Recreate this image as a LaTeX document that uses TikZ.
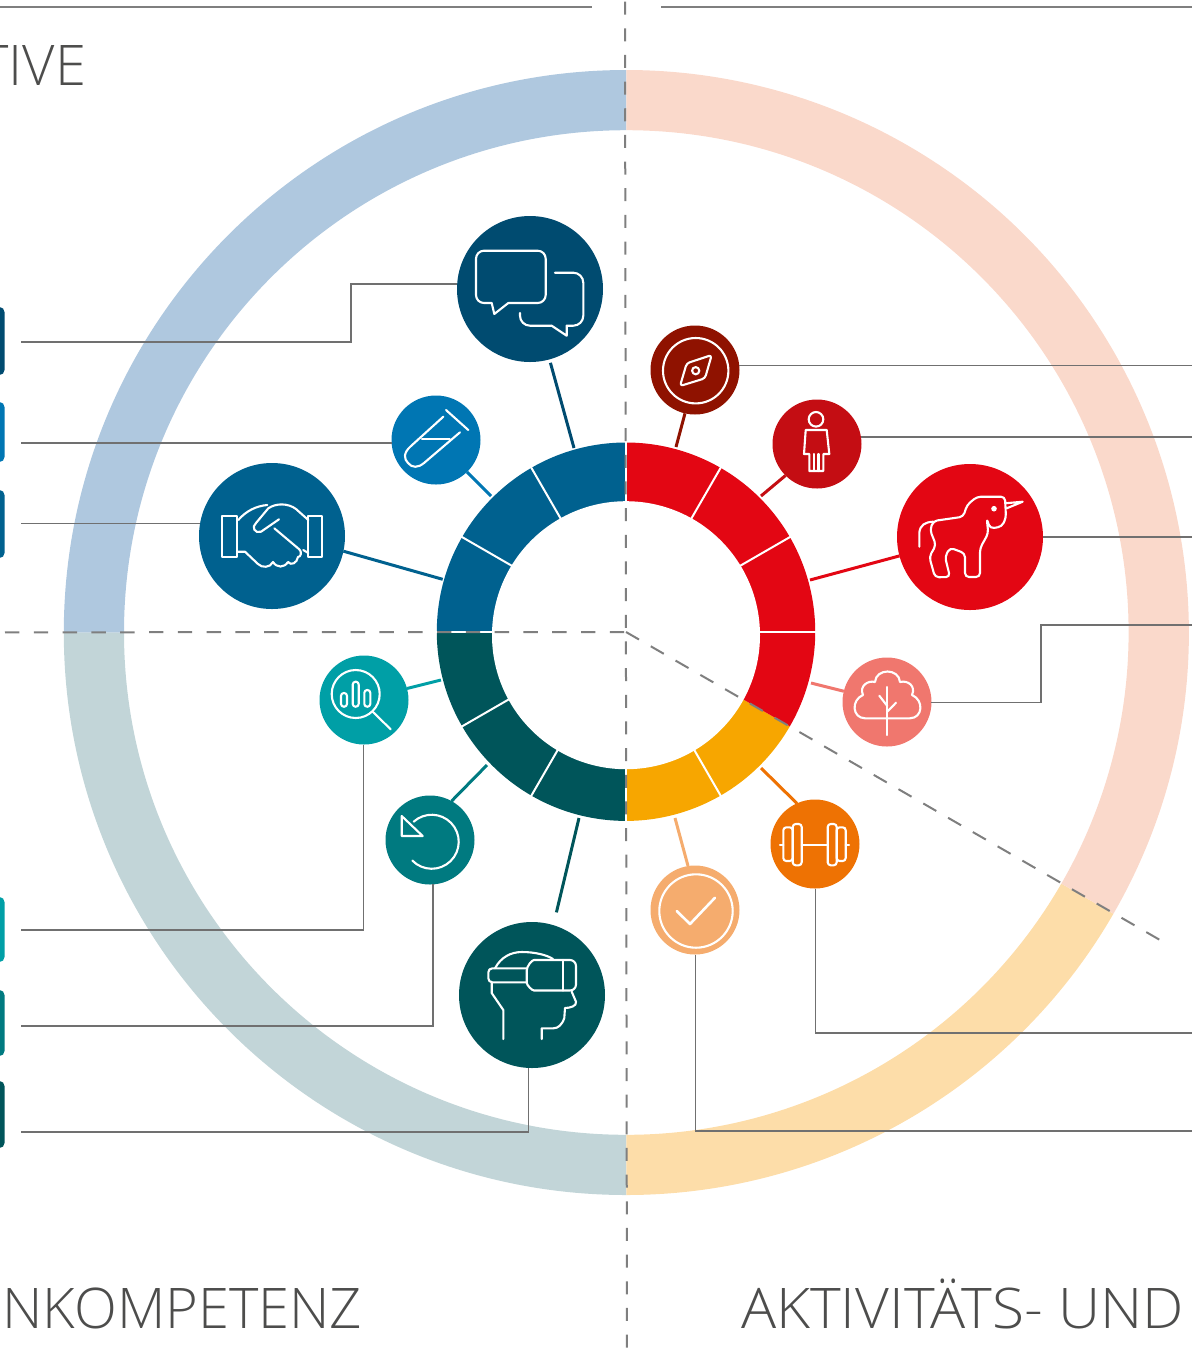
\documentclass[tikz,border=0pt]{standalone}
\usepackage{fontspec}
\setmainfont{Open Sans Light}
\definecolor{cChat}{HTML}{004B70}
\definecolor{cTube}{HTML}{0076B3}
\definecolor{cHand}{HTML}{00618F}
\definecolor{cSearch}{HTML}{009FA6}
\definecolor{cReset}{HTML}{007A80}
\definecolor{cVr}{HTML}{00555A}
\definecolor{cCompass}{HTML}{8F1200}
\definecolor{cPerson}{HTML}{C40D13}
\definecolor{cRed}{HTML}{E30613}
\definecolor{cTree}{HTML}{F0776E}
\definecolor{cBell}{HTML}{EE7203}
\definecolor{cCheck}{HTML}{F5AC6E}
\definecolor{cYellow}{HTML}{F7A600}
\definecolor{cRingBlue}{HTML}{AFC8DF}
\definecolor{cRingGreen}{HTML}{C2D5D8}
\definecolor{cRingRed}{HTML}{FAD9CB}
\definecolor{cRingYellow}{HTML}{FDDDA9}
\definecolor{cLead}{HTML}{707070}
\definecolor{cDash}{HTML}{7F7F7F}
\definecolor{cText}{HTML}{4D4D4C}
\newcommand{\ringsector}[5]{\fill[#1] (#2:#4) arc (#2:#3:#4) -- (#3:#5) arc (#3:#2:#5) -- cycle;}
\tikzset{
  big/.style={circle,draw=none,inner sep=0pt,outer sep=0pt,minimum size=73pt},
  small/.style={circle,draw=none,inner sep=0pt,outer sep=0pt,minimum size=44.5pt},
  spoke/.style={line width=1.5pt},
  leader/.style={draw=cLead,line width=.65pt},
  topline/.style={draw=cDash,line width=.65pt},
  divider/.style={draw=cDash,line width=1pt},
  icon/.style={draw=white,line width=1.05pt,line join=round,line cap=round},
  hubline/.style={draw=white,line width=1pt},
  tab/.style={rounded corners=2.5pt},
  title/.style={text=cText,inner sep=0pt,outer sep=0pt,font=\fontsize{28}{30}\selectfont}
}
\begin{document}
\begin{tikzpicture}[x=.5pt,y=-.5pt]
\useasboundingbox (0,0) rectangle (1192,1357);
\coordinate (C) at (626,632);
\coordinate (CR) at (626.3,632.5);
\coordinate (CH) at (626,631.7);
% outer ring
\begin{scope}[shift={(CR)},x=.5pt,y=.5pt]
  \ringsector{cRingBlue}{90}{180}{562.5}{502.3}
  \ringsector{cRingGreen}{180}{270}{562.5}{502.3}
  \ringsector{cRingYellow}{270}{330}{562.5}{502.3}
  \ringsector{cRingRed}{330}{450}{562.5}{502.3}
\end{scope}
% hub
\begin{scope}[shift={(CH)},x=.5pt,y=.5pt]
  \ringsector{cHand}{90}{180}{189.2}{100}
  \ringsector{cVr}{180}{270}{189.2}{100}
  \ringsector{cYellow}{270}{330}{189.2}{100}
  \ringsector{cRed}{330}{450}{189.2}{100}
  \foreach \a in {0,30,60,90,120,150,180,210,240,270,300}
    \draw[hubline] (\a:120) -- (\a:190.5);
\end{scope}
\fill[white] (626,635.2) circle[radius=67pt];
% tabs at the left edge
\fill[cChat,tab] (-12,307) rectangle (4.5,375);
\fill[cTube,tab] (-12,402) rectangle (4.5,462);
\fill[cHand,tab] (-12,490) rectangle (4.5,558);
\fill[cSearch,tab] (-12,897) rectangle (4.5,962);
\fill[cReset,tab] (-12,990) rectangle (4.5,1056);
\fill[cVr,tab] (-12,1081) rectangle (4.5,1148);
% discs
\node[big,fill=cChat] (chat) at (530,289) {};
\node[small,fill=cTube] (tube) at (436,440) {};
\node[big,fill=cHand] (hand) at (272,536) {};
\node[small,fill=cSearch] (search) at (364,700) {};
\node[small,fill=cReset] (reset) at (430,840) {};
\node[big,fill=cVr] (vr) at (532,995) {};
\node[small,fill=cCompass] (compass) at (695,370) {};
\node[small,fill=cPerson] (person) at (817,444) {};
\node[big,fill=cRed] (unicorn) at (970,537) {};
\node[small,fill=cTree] (tree) at (887,702) {};
\node[small,fill=cBell] (bell) at (815,844) {};
\node[small,fill=cCheck] (check) at (695,910) {};
% hub ends of the spokes
\coordinate (hChat) at (574,448);
\coordinate (hTube) at (491,496);
\coordinate (hHand) at (442.7,579.3);
\coordinate (hSearch) at (441,680);
\coordinate (hReset) at (487,765);
\coordinate (hVr) at (579,818);
\coordinate (hCompass) at (676,447);
\coordinate (hPerson) at (761,496);
\coordinate (hUnicorn) at (810,580);
\coordinate (hTree) at (811,683);
\coordinate (hBell) at (761,768);
\coordinate (hCheck) at (675,818);
\draw[spoke,draw=cChat,shorten <=1.8pt] (chat) -- (hChat);
\draw[spoke,draw=cTube] (tube.-46) -- (hTube);
\draw[spoke,draw=cHand] (hand.-12) -- (hHand);
\draw[spoke,draw=cSearch] (search.15) -- (hSearch);
\draw[spoke,draw=cReset] (reset.61) -- (hReset);
\draw[spoke,draw=cVr,shorten <=6.6pt] (vr.73) -- (hVr);
\draw[spoke,draw=cCompass] (compass.257) -- (hCompass);
\draw[spoke,draw=cPerson] (person.225) -- (hPerson);
\draw[spoke,draw=cRed] (unicorn.195) -- (hUnicorn);
\draw[spoke,draw=cTree] (tree.166) -- (hTree);
\draw[spoke,draw=cBell] (bell.114) -- (hBell);
\draw[spoke,draw=cCheck] (check.99) -- (hCheck);
% leaders
\coordinate (edgeL) at (21,0);
\coordinate (edgeR) at (1192,0);
\coordinate (lChat) at (21,342);
\coordinate (lSearch) at (21,930);
\coordinate (lReset) at (21,1026);
\coordinate (lVr) at (21,1132);
\coordinate (rTree) at (1192,625);
\coordinate (rBell) at (1192,1033);
\coordinate (rCheck) at (1192,1131);
\draw[leader] (lChat) -- (351,342) |- (chat.176);
\draw[leader] (edgeL |- tube.184) -- (tube.184);
\draw[leader] (edgeL |- hand.170) -- (hand.170);
\draw[leader] (lSearch) -| (search.-91);
\draw[leader] (lReset) -| (reset.274);
\draw[leader] (lVr) -| (vr.267);
\draw[leader] (compass.6) -- (edgeR |- compass.6);
\draw[leader] (person.9) -- (edgeR |- person.9);
\draw[leader] (unicorn.east) -- (edgeR |- unicorn.east);
\draw[leader] (tree.-1) -| (1041,625) -- (rTree);
\draw[leader] (bell.-89) |- (rBell);
\draw[leader] (check.-89) |- (rCheck);
% top rules
\coordinate (tA) at (0,7); \coordinate (tB) at (592,7);
\coordinate (tC) at (661,7); \coordinate (tD) at (1192,7);
\draw[topline] (tA) -- (tB);
\draw[topline] (tC) -- (tD);
% icons
% chat
\draw[icon,rounded corners=4pt] (491.7,303) -- (476,303) -- (476,250.7) -- (545.7,250.7) -- (545.7,303) -- (508.3,303);
\draw[icon] (508.3,303) -- (494.3,314) -- (491.7,303);
\draw[icon,rounded corners=5pt] (555,272.7) -- (583.3,272.7) -- (583.3,325.7) -- (566.7,325.7);
\draw[icon] (566.7,325.7) -- (566.7,335.7) -- (551.7,325.7);
\draw[icon,rounded corners=5pt] (551.7,325.7) -- (520,325.7) -- (520,313);
% tube
\draw[icon] (446,410) -- (468.3,430);
\draw[icon] (443.3,416.7) -- (411,446) .. controls (403,453) and (404,459) .. (408,463) .. controls (412,468) and (418,468) .. (424,463) -- (460,432.3);
\draw[icon,line width=.6pt] (421.7,439) -- (450,439);
% handshake
\draw[icon] (222.3,515.7) rectangle (237.3,556.7);
\draw[icon] (308.3,515.7) rectangle (322.3,556.7);
\draw[icon] (238.3,520) .. controls (246,511) and (256,506) .. (267.3,505);
\draw[icon] (279,519.3) -- (261,531.7) .. controls (255,534) and (251,527) .. (256,523) -- (268.3,508.3) .. controls (276,503) and (288,503) .. (296,509) -- (308.3,520);
\draw[icon] (237.3,551.7) -- (245,551.7) -- (258,564) .. controls (262,568) and (270,568) .. (273,562) .. controls (277,568) and (284,568) .. (288,562) .. controls (291,566) and (297,563) .. (298,557) .. controls (301,557) and (302,552) .. (299.5,549.5) -- (274.3,528.3);
\draw[icon] (303.3,550) -- (308.3,553);
% search
\draw[icon] (355.7,694) circle[radius=12pt];
\draw[icon] (372.7,711.7) -- (390.7,729.3);
\draw[icon,rounded corners=1.4pt] (341,693) rectangle (347,706.7);
\draw[icon,rounded corners=1.4pt] (352.7,681.7) rectangle (358.7,706.7);
\draw[icon,rounded corners=1.4pt] (364.3,690) rectangle (370.3,706.7);
% reset
\draw[icon] (412.3,860.5) arc[start angle=224,end angle=492,radius=13.5pt];
\draw[icon] (401.7,816) -- (401.7,836) -- (422.7,836) -- cycle;
% vr head
\draw[icon,rounded corners=2pt] (526.7,968.3) -- (488.3,968.3) -- (488.3,982.3) -- (526.7,982.3);
\draw[icon,rounded corners=3pt] (526.7,976.7) .. controls (526.7,966) and (532,960) .. (540,960) -- (576,960) -- (576,990.5) -- (540,990.5) .. controls (532,990.5) and (526.7,985) .. (526.7,976.7) -- cycle;
\draw[icon] (562.7,960) -- (562.7,990.5);
\draw[icon] (495,968.3) .. controls (501,957) and (511,952) .. (522,952) .. controls (535,952) and (547,955) .. (553,959);
\draw[icon] (491.7,982.3) -- (491.7,993) -- (503.3,1010) -- (503.3,1039);
\draw[icon] (571.7,991.7) -- (576,1001.7) .. controls (577,1006) and (570,1008) .. (565,1008) -- (564.3,1018) .. controls (562,1025) and (558,1028.3) .. (553.3,1028.3) -- (541.7,1028.3) -- (541.7,1039);
% compass
\draw[icon] (695.7,370.7) circle[radius=16.35pt];
\draw[icon,rounded corners=1.5pt] (711.7,355) -- (705,378.3) -- (680,386) -- (686.7,363.3) -- cycle;
\draw[icon] (695.7,370.7) circle[radius=1.8pt];
% person
\draw[icon] (816,419.3) circle[radius=3.65pt];
\draw[icon] (805.7,430) -- (826.7,430) -- (829.3,454) -- (823.3,454) -- (823.3,471) -- (809.3,471) -- (809.3,454) -- (804,454) -- cycle;
\draw[icon] (814,454) -- (814,471);
\draw[icon] (818.5,454) -- (818.5,471);
% unicorn
\draw[icon] (919.3,546.7) -- (919.3,533) .. controls (920,525) and (925,522) .. (933.3,521.7);
\draw[icon,rounded corners=2pt] (933.3,521) -- (963.3,516.7) -- (967,505) -- (977,496.7) -- (1005,496.7) -- (1006,518) -- (1001.7,526.7) -- (990,528.5) -- (986.7,518.3) -- (988.3,533.3) -- (980,548.3) -- (980,577) -- (965,577) -- (965,553.3) -- (950,547.7) -- (945,556.7) -- (950,577) -- (935,577.3) -- (929.3,556.7) -- (936,545) -- (930,530) -- cycle;
\draw[icon] (1005,503.3) -- (1022.7,501.7) -- (1006.7,508.3);
\fill[white] (994,508.7) circle[radius=1.4pt];
% tree
\draw[icon] (865,718.3) .. controls (852,718) and (851,700) .. (863,695) .. controls (859,686) and (868,680) .. (875,682) .. controls (876,668) and (899,668) .. (900,682) .. controls (908,680) and (916,686) .. (912,695) .. controls (924,700) and (923,718) .. (910,718.3) -- cycle;
\draw[icon] (887.3,687) -- (887.3,735);
\draw[icon] (879.3,695.7) -- (887.3,706);
\draw[icon] (896,702.7) -- (887.3,711.7);
% dumbbell
\draw[icon,rounded corners=1.5pt] (783.3,827.3) rectangle (792.7,861);
\draw[icon,rounded corners=1.5pt] (792.7,824) rectangle (801.7,865.3);
\draw[icon,rounded corners=1.5pt] (827.7,824) rectangle (836.7,865.3);
\draw[icon,rounded corners=1.5pt] (836.7,827.3) rectangle (845.7,861);
\draw[icon] (801.7,844.7) -- (827.7,844.7);
\draw[icon] (780,844.7) -- (783.3,844.7);
\draw[icon] (845.7,844.7) -- (849,844.7);
% check
\draw[icon] (696,911) circle[radius=18.35pt];
\draw[icon,line width=1.3pt] (676.7,911) -- (690,924) -- (715,897.7);
% dashed axes
\coordinate (vA) at (625,1.6); \coordinate (vB) at (627,1357);
\coordinate (hA) at (5,632.3);
\coordinate (dB) at (1160,940);
\draw[divider,dash pattern=on 6.5pt off 6.83pt] (vA) -- (vB);
\draw[divider,dash pattern=on 7.2pt off 7.2pt] (hA) -- (C);
\draw[divider,dash pattern=on 7.5pt off 6.8pt] (C) -- (dB);
% titles
\node[title,anchor=base east] (tive) at (86,85) {TIVE};
\node[title,anchor=base east] (kompetenz) at (362,1328) {NKOMPETENZ};
\node[title,anchor=base west] (aktiv) at (741,1328) {\addfontfeature{FakeStretch=1.045}AKTIVITÄTS- UND};
\end{tikzpicture}
\end{document}
